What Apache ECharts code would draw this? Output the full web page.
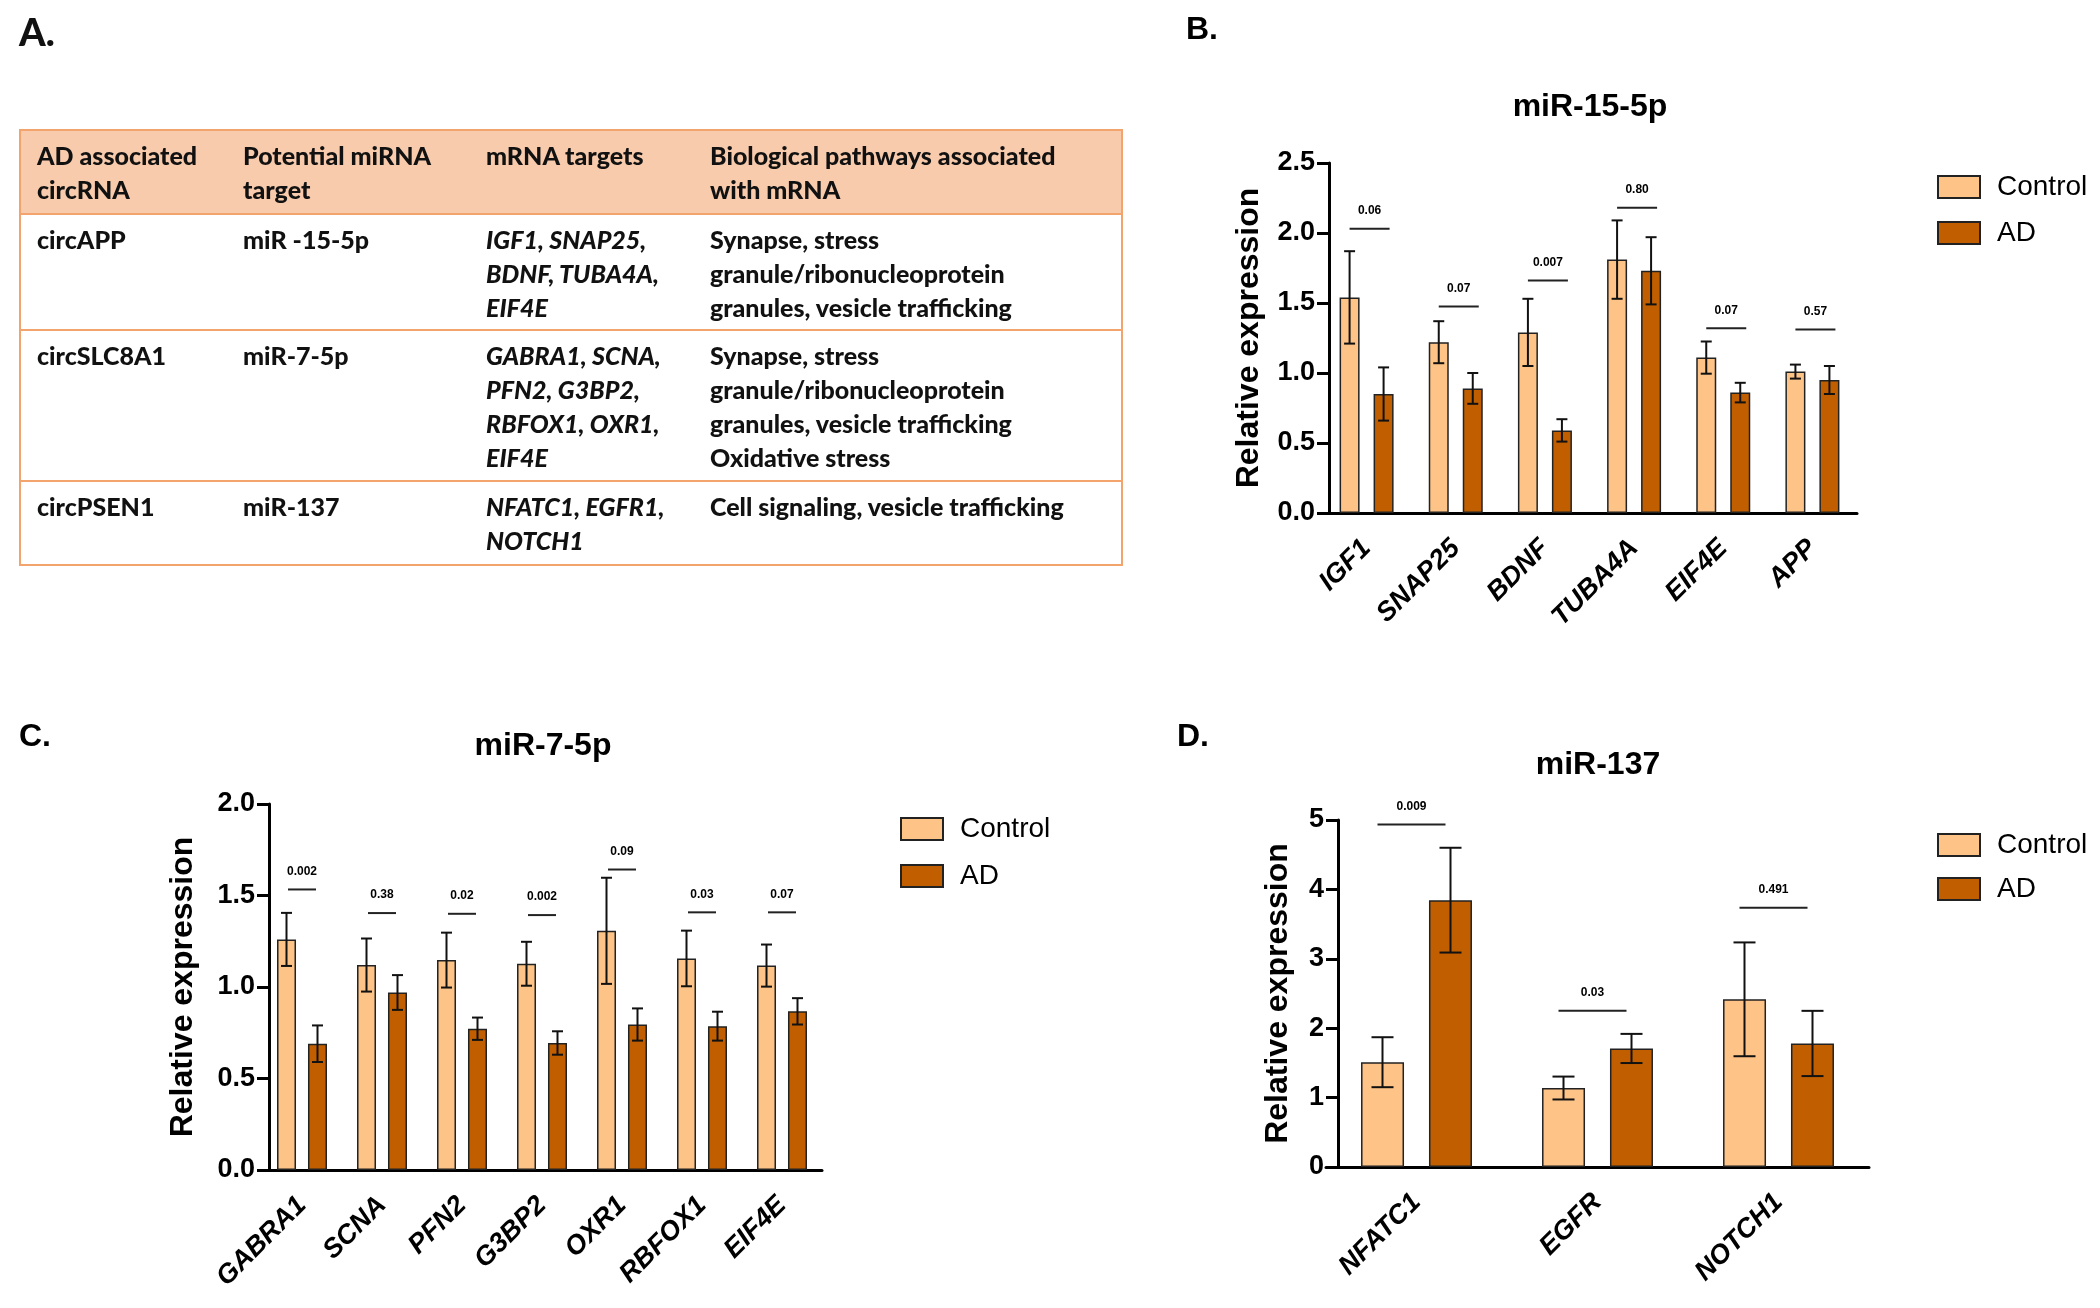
<!DOCTYPE html>
<html><head><meta charset="utf-8">
<script src="https://cdn.jsdelivr.net/npm/echarts/dist/echarts.min.js"></script>
<style>
html,body{margin:0;padding:0;background:#fff;}
#wrap{position:relative;width:2100px;height:1308px;overflow:hidden;background:#fff;}
#chart{position:absolute;left:0;top:0;width:2100px;height:1308px;}
#table{position:absolute;left:0;top:0;width:2100px;height:1308px;z-index:5;pointer-events:none;font-family:Lato,"Open Sans",sans-serif;font-weight:900;font-size:25px;color:#111;}
.cell{position:absolute;line-height:34px;white-space:nowrap;}
.it{font-style:italic;}
</style>
</head><body>
<div id="wrap"><div id="chart"></div><div id="table"></div></div>
<script>
// ---------- Panel A table text ----------
const tableHeader = [['AD associated','circRNA'],['Potential miRNA','target'],['mRNA targets'],['Biological pathways associated','with mRNA']];
const tableRows = [
  [['circAPP'],['miR -15-5p'],['IGF1, SNAP25,','BDNF, TUBA4A,','EIF4E'],['Synapse, stress','granule/ribonucleoprotein','granules, vesicle trafficking']],
  [['circSLC8A1'],['miR-7-5p'],['GABRA1, SCNA,','PFN2, G3BP2,','RBFOX1, OXR1,','EIF4E'],['Synapse, stress','granule/ribonucleoprotein','granules, vesicle trafficking','Oxidative stress']],
  [['circPSEN1'],['miR-137'],['NFATC1, EGFR1,','NOTCH1'],['Cell signaling, vesicle trafficking']]
];

// ---------- Panel B: miR-15-5p ----------
const genesB = ['IGF1','SNAP25','BDNF','TUBA4A','EIF4E','APP'];
const ctrlB = [1.54,1.22,1.29,1.81,1.11,1.01];
const ctrlErrB = [0.33,0.15,0.24,0.28,0.115,0.05];
const adB = [0.85,0.89,0.59,1.73,0.86,0.95];
const adErrB = [0.19,0.11,0.08,0.24,0.07,0.10];
const pB = ['0.06','0.07','0.007','0.80','0.07','0.57'];
const pLineB = [2.03,1.475,1.66,2.18,1.32,1.31];

// ---------- Panel C: miR-7-5p ----------
const genesC = ['GABRA1','SCNA','PFN2','G3BP2','OXR1','RBFOX1','EIF4E'];
const ctrlC = [1.26,1.12,1.147,1.127,1.307,1.156,1.117];
const ctrlErrC = [0.145,0.145,0.15,0.12,0.29,0.152,0.115];
const adC = [0.69,0.97,0.772,0.694,0.795,0.786,0.867];
const adErrC = [0.10,0.095,0.061,0.064,0.088,0.079,0.072];
const pC = ['0.002','0.38','0.02','0.002','0.09','0.03','0.07'];
const pLineC = [1.533,1.404,1.40,1.393,1.642,1.408,1.408];

// ---------- Panel D: miR-137 ----------
const genesD = ['NFATC1','EGFR','NOTCH1'];
const ctrlD = [1.51,1.138,2.416];
const ctrlErrD = [0.36,0.165,0.82];
const adD = [3.845,1.708,1.78];
const adErrD = [0.755,0.21,0.47];
const pD = ['0.009','0.03','0.491'];
const pLineD = [4.935,2.25,3.735];

const seriesNames = ['Control','AD'];
const yTicksB = {min:0,max:2.5,interval:0.5};
const yTicksC = {min:0,max:2.0,interval:0.5};
const yTicksD = {min:0,max:5,interval:1};

// ---------- build table (HTML) ----------
(function(){
  const t = document.getElementById('table');
  const L = 20, R = 1122;
  const rowTops = [130,214,330,481,565];
  const colX = [37,243,486,710];
  const border = '#F3A46C';
  let html = '';
  html += `<div style="position:absolute;left:${L}px;top:${rowTops[0]}px;width:${R-L}px;height:${rowTops[1]-rowTops[0]}px;background:#F8CBAD;"></div>`;
  rowTops.forEach(y=>{ html += `<div style="position:absolute;left:${L}px;top:${y-1}px;width:${R-L}px;height:2px;background:${border};"></div>`; });
  html += `<div style="position:absolute;left:${L-1}px;top:${rowTops[0]-1}px;width:2px;height:${rowTops[4]-rowTops[0]+2}px;background:${border};"></div>`;
  html += `<div style="position:absolute;left:${R-1}px;top:${rowTops[0]-1}px;width:2px;height:${rowTops[4]-rowTops[0]+2}px;background:${border};"></div>`;
  const allRows = [tableHeader].concat(tableRows);
  allRows.forEach((row,ri)=>{
    row.forEach((lines,ci)=>{
      const cls = (ri>0 && ci===2) ? 'cell it' : 'cell';
      html += `<div class="${cls}" style="left:${colX[ci]}px;top:${rowTops[ri]+8}px;">${lines.join('<br>')}</div>`;
    });
  });
  html += `<div class="cell" style="left:19px;top:11px;font-size:38px;line-height:40px;">A.</div>`;
  t.innerHTML = html;
})();

// ---------- chart ----------
const FONT = '"Liberation Sans", Arial, sans-serif';
const CTRL = '#FDC387';
const ADC = '#C15F00';

function xAxisCfg(g, cats){
  return {type:'category', gridIndex:g, data:cats,
    axisLine:{lineStyle:{color:'#000', width:3}},
    axisTick:{alignWithLabel:true, length:13, lineStyle:{color:'#000', width:3}},
    axisLabel:{rotate:45, margin:31, color:'#000', fontFamily:FONT, fontSize:27, fontWeight:'bold', fontStyle:'italic', interval:0}};
}
function yAxisCfg(g, ticks, offset, nameGap, dec){
  return {type:'value', gridIndex:g, min:ticks.min, max:ticks.max, interval:ticks.interval, offset:offset,
    name:'Relative expression', nameLocation:'middle', nameRotate:90, nameGap:nameGap,
    nameTextStyle:{fontFamily:FONT, fontSize:32, fontWeight:'bold', color:'#000'},
    axisLine:{show:true, lineStyle:{color:'#000', width:3}},
    axisTick:{show:true, length:12, lineStyle:{color:'#000', width:3}},
    splitLine:{show:false},
    axisLabel:{margin:14, color:'#000', fontFamily:FONT, fontSize:27, fontWeight:'bold',
      formatter:v=>v.toFixed(dec)}};
}
function barSeries(g, name, data, color, bw, gap){
  return {type:'bar', name:name, xAxisIndex:g, yAxisIndex:g, data:data, barWidth:bw, barGap:gap,
    itemStyle:{color:color, borderColor:'#222', borderWidth:1.5}, z:2};
}
function errSeries(g, means, errs, dx, cap){
  return {type:'custom', name:'err', xAxisIndex:g, yAxisIndex:g, z:5, silent:true,
    data: means.map((m,i)=>[i, m, errs[i]]),
    renderItem:function(params, api){
      const i = api.value(0), m = api.value(1), e = api.value(2);
      const top = api.coord([i, m+e]), bot = api.coord([i, m-e]);
      const x = top[0] + dx;
      const st = {stroke:'#111', lineWidth:2};
      return {type:'group', children:[
        {type:'line', shape:{x1:x,y1:top[1],x2:x,y2:bot[1]}, style:st},
        {type:'line', shape:{x1:x-cap/2,y1:top[1],x2:x+cap/2,y2:top[1]}, style:st},
        {type:'line', shape:{x1:x-cap/2,y1:bot[1],x2:x+cap/2,y2:bot[1]}, style:st}
      ]};
    }};
}
function pSeries(g, heights, labels, x1off, x2off){
  return {type:'custom', name:'p', xAxisIndex:g, yAxisIndex:g, z:6, silent:true,
    data: heights.map((h,i)=>[i, h]),
    renderItem:function(params, api){
      const i = api.value(0), h = api.value(1);
      const p = api.coord([i, h]);
      const xa = p[0]+x1off, xb = p[0]+x2off;
      return {type:'group', children:[
        {type:'line', shape:{x1:xa,y1:p[1],x2:xb,y2:p[1]}, style:{stroke:'#222', lineWidth:2}},
        {type:'text', x:(xa+xb)/2, y:p[1]-18, style:{text:labels[params.dataIndex], fill:'#000',
          font:'bold 12px ' + FONT, align:'center', verticalAlign:'middle'}}
      ]};
    }};
}
function legendCfg(left, top, gap){
  return {data:seriesNames, orient:'vertical', left:left, top:top, itemGap:gap, icon:'rect',
    itemWidth:42, itemHeight:22, selectedMode:false,
    itemStyle:{borderColor:'#222', borderWidth:2},
    textStyle:{fontFamily:FONT, fontSize:28, color:'#000', padding:[0,0,0,12]}};
}
function txt(x, y, text, font, align){
  return {type:'text', x:x, y:y, style:{text:text, font:font, fill:'#000', align:align||'center', verticalAlign:'middle'}};
}

const chart = echarts.init(document.getElementById('chart'), null, {renderer:'canvas'});
chart.setOption({
  animation:false,
  backgroundColor:'#fff',
  grid:[
    {left:1322, width:535, top:163, height:350},
    {left:262, width:560, top:804, height:366},
    {left:1326, width:543, top:820, height:347}
  ],
  xAxis:[xAxisCfg(0, genesB), xAxisCfg(1, genesC), xAxisCfg(2, genesD)],
  yAxis:[yAxisCfg(0, yTicksB, -7, 64, 1), yAxisCfg(1, yTicksC, -7, 70, 1), yAxisCfg(2, yTicksD, -12, 44, 0)],
  legend:[legendCfg(1932, 168, 18), legendCfg(895, 810, 19), legendCfg(1932, 826, 16)],
  series:[
    barSeries(0,'Control',ctrlB,CTRL,20,'70%'), barSeries(0,'AD',adB,ADC,20,'70%'),
    errSeries(0, ctrlB, ctrlErrB, -17, 11), errSeries(0, adB, adErrB, 17, 11),
    pSeries(0, pLineB, pB, -17, 23),
    barSeries(1,'Control',ctrlC,CTRL,19,'63%'), barSeries(1,'AD',adC,ADC,19,'63%'),
    errSeries(1, ctrlC, ctrlErrC, -15.5, 11), errSeries(1, adC, adErrC, 15.5, 11),
    pSeries(1, pLineC, pC, -14, 14),
    barSeries(2,'Control',ctrlD,CTRL,43,'58%'), barSeries(2,'AD',adD,ADC,43,'58%'),
    errSeries(2, ctrlD, ctrlErrD, -34, 22), errSeries(2, adD, adErrD, 34, 22),
    pSeries(2, pLineD, pD, -39, 29)
  ],
  graphic:[
    txt(1590, 107, 'miR-15-5p', 'bold 32px ' + FONT),
    txt(543, 746, 'miR-7-5p', 'bold 32px ' + FONT),
    txt(1598, 765, 'miR-137', 'bold 32px ' + FONT),
    txt(1186, 30, 'B.', 'bold 32px ' + FONT, 'left'),
    txt(19, 737, 'C.', 'bold 32px ' + FONT, 'left'),
    txt(1177, 737, 'D.', 'bold 32px ' + FONT, 'left')
  ]
});
</script>
</body></html>
